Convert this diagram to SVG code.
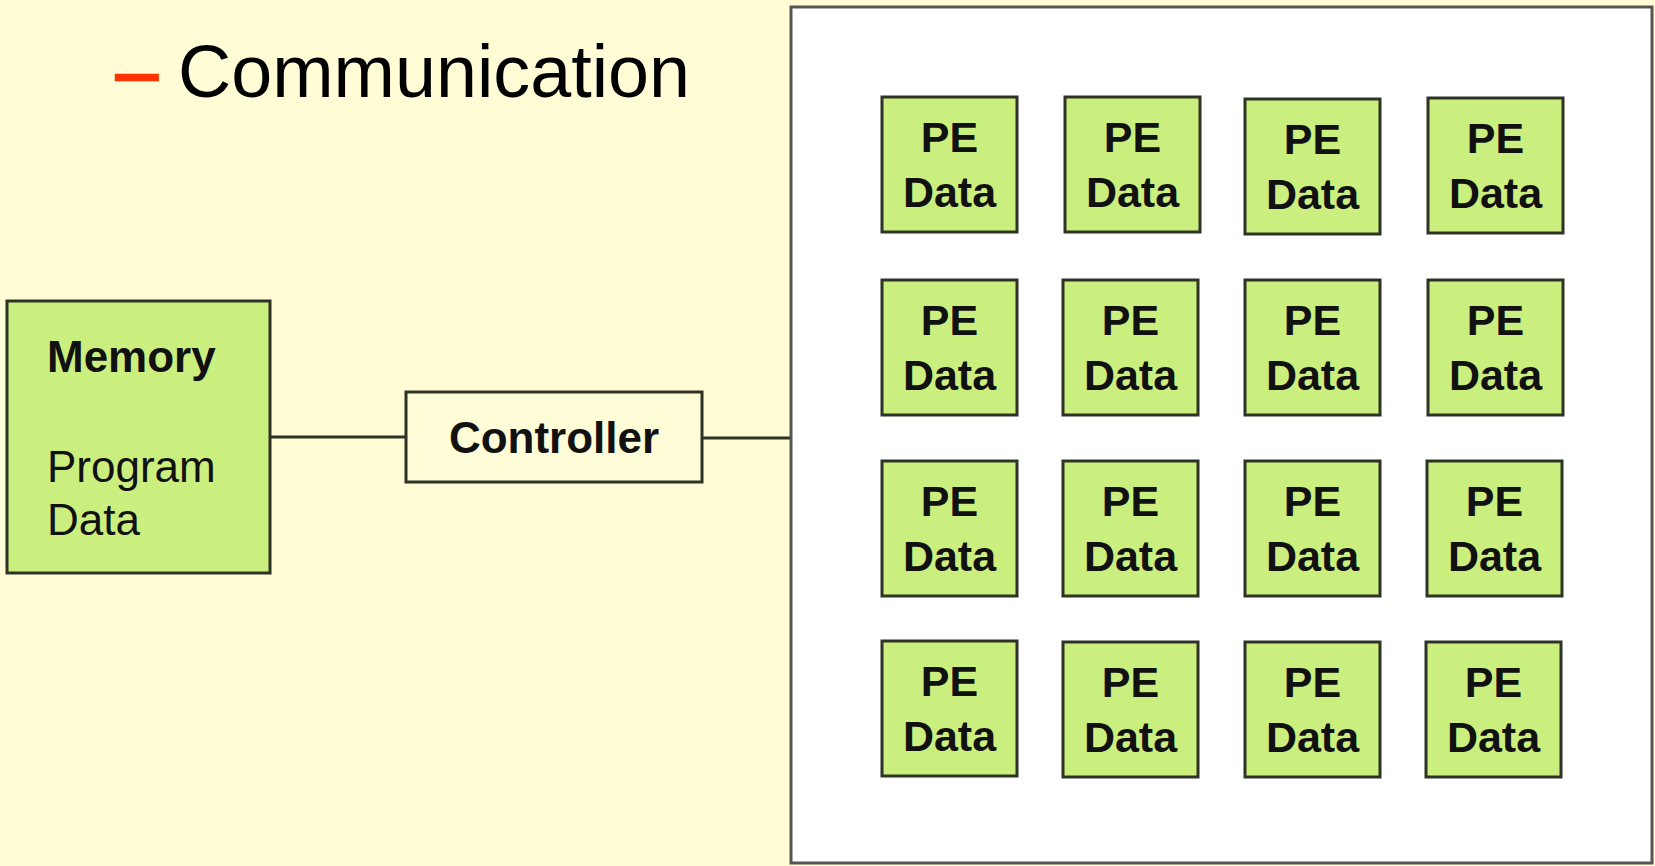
<svg xmlns="http://www.w3.org/2000/svg" width="1655" height="866" viewBox="0 0 1655 866">
<style>
.bg{fill:#FFFCD6}
.green{fill:#CBEF7E;stroke:#2E3326;stroke-width:3}
.ctrl{fill:#FFFCD8;stroke:#2E3326;stroke-width:3}
.frame{fill:#FFFFFF;stroke:#555555;stroke-width:3}
.conn{stroke:#2E3326;stroke-width:3;fill:none}
.b{font-family:"Liberation Sans",Arial,sans-serif;font-weight:bold;fill:#111}
.r{font-family:"Liberation Sans",Arial,sans-serif;fill:#111}
.pe{font-size:43px;text-anchor:middle}
</style>
<defs>
<g id="pecell">
<rect class="green" x="0" y="0" width="135" height="135"/>
<text class="b pe" x="67.5" y="55">PE</text>
<text class="b pe" x="67.5" y="110">Data</text>
</g>
</defs>
<rect class="bg" x="0" y="0" width="1655" height="866"/>
<g id="title">
<text class="r" x="116" y="96" font-size="75" style="fill:#FF3300;stroke:#FF3300;stroke-width:2.5">–</text>
<text class="r" x="178" y="97" font-size="75" textLength="512" lengthAdjust="spacingAndGlyphs" style="fill:#000">Communication</text>
</g>
<g id="connectors">
<line class="conn" x1="270" y1="437" x2="406" y2="437"/>
<line class="conn" x1="702" y1="438" x2="791" y2="438"/>
</g>
<g id="memory">
<rect class="green" x="7" y="301" width="263" height="272"/>
<text class="b" x="47" y="372" font-size="44">Memory</text>
<text class="r" x="47" y="482" font-size="44">Program</text>
<text class="r" x="47" y="535" font-size="44">Data</text>
</g>
<g id="controller">
<rect class="ctrl" x="406" y="392" width="296" height="90"/>
<text class="b" x="554" y="453" font-size="44" text-anchor="middle">Controller</text>
</g>
<g id="pe-array">
<rect class="frame" x="791" y="7" width="861" height="856"/>
</g>
<g id="pe-1-1"><use href="#pecell" x="882" y="97"/></g>
<g id="pe-1-2"><use href="#pecell" x="1065" y="97"/></g>
<g id="pe-1-3"><use href="#pecell" x="1245" y="99"/></g>
<g id="pe-1-4"><use href="#pecell" x="1428" y="98"/></g>
<g id="pe-2-1"><use href="#pecell" x="882" y="280"/></g>
<g id="pe-2-2"><use href="#pecell" x="1063" y="280"/></g>
<g id="pe-2-3"><use href="#pecell" x="1245" y="280"/></g>
<g id="pe-2-4"><use href="#pecell" x="1428" y="280"/></g>
<g id="pe-3-1"><use href="#pecell" x="882" y="461"/></g>
<g id="pe-3-2"><use href="#pecell" x="1063" y="461"/></g>
<g id="pe-3-3"><use href="#pecell" x="1245" y="461"/></g>
<g id="pe-3-4"><use href="#pecell" x="1427" y="461"/></g>
<g id="pe-4-1"><use href="#pecell" x="882" y="641"/></g>
<g id="pe-4-2"><use href="#pecell" x="1063" y="642"/></g>
<g id="pe-4-3"><use href="#pecell" x="1245" y="642"/></g>
<g id="pe-4-4"><use href="#pecell" x="1426" y="642"/></g>
</svg>
